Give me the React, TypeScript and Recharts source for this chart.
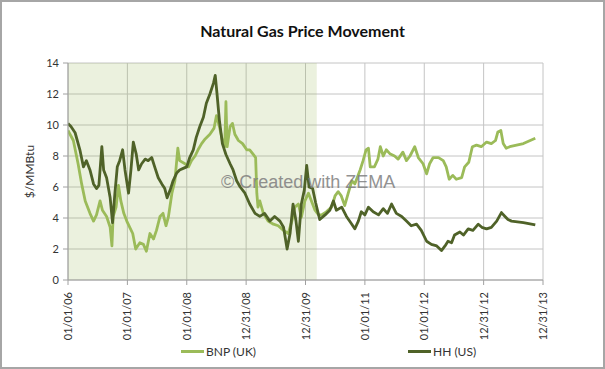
import { LineChart, Line, XAxis, YAxis, CartesianGrid, ReferenceArea, Legend } from 'recharts'

const FONT = 'Lato, "Open Sans", sans-serif'
const BNP_COLOR = '#9bbb59'
const HH_COLOR = '#4f6228'

// decimal years on the x axis, one tick per year
const xTicks = [2006, 2007, 2008, 2009, 2010, 2011, 2012, 2013, 2014]
const xTickLabels = ['01/01/06', '01/01/07', '01/01/08', '12/31/08', '12/31/09', '01/01/11', '01/01/12', '12/31/12', '12/31/13']
const yTicks = [0, 2, 4, 6, 8, 10, 12, 14]
const shadedRange = [2006, 2010.19]

const hhYears = [
  2006.0, 2006.05, 2006.12, 2006.2, 2006.26, 2006.31, 2006.37, 2006.43, 2006.48, 2006.52,
  2006.57, 2006.6, 2006.65, 2006.71, 2006.75, 2006.79, 2006.83, 2006.87, 2006.92, 2006.96,
  2007.02, 2007.06, 2007.1, 2007.15, 2007.19, 2007.24, 2007.3, 2007.35, 2007.41, 2007.46,
  2007.52, 2007.58, 2007.63, 2007.67, 2007.72, 2007.77, 2007.83, 2007.88, 2007.94, 2008.0,
  2008.05, 2008.11, 2008.16, 2008.22, 2008.28, 2008.33, 2008.39, 2008.45, 2008.48, 2008.51,
  2008.55, 2008.6, 2008.66, 2008.73, 2008.78, 2008.84, 2008.9, 2008.98, 2009.06, 2009.15,
  2009.23, 2009.31, 2009.4, 2009.48, 2009.57, 2009.63, 2009.69, 2009.74, 2009.79, 2009.84,
  2009.88, 2009.93, 2009.98, 2010.02, 2010.06, 2010.12, 2010.17, 2010.24, 2010.33, 2010.41,
  2010.47, 2010.52, 2010.61, 2010.69, 2010.78, 2010.83, 2010.89, 2010.94, 2011.0, 2011.06,
  2011.14, 2011.23, 2011.31, 2011.38, 2011.45, 2011.53, 2011.62, 2011.7, 2011.78, 2011.87,
  2011.95, 2012.04, 2012.12, 2012.21, 2012.29, 2012.35, 2012.4, 2012.46, 2012.51, 2012.6,
  2012.66, 2012.74, 2012.82, 2012.91, 2012.97, 2013.05, 2013.13, 2013.22, 2013.3, 2013.36,
  2013.41, 2013.47, 2013.67, 2013.87,
]
const hhValues = [
  10.1, 9.9, 9.5, 8.4, 7.3, 7.7, 7.1, 6.2, 5.9, 6.1,
  8.6, 7.1, 6.6, 5.3, 3.7, 5.6, 7.3, 7.7, 8.4, 7.1,
  5.6, 7.1, 8.9, 8.1, 7.1, 7.5, 7.8, 7.7, 7.9, 7.3,
  6.6, 6.2, 5.9, 5.3, 5.8, 6.4, 6.9, 7.1, 7.2, 7.3,
  7.9, 8.4, 9.2, 9.9, 10.5, 11.4, 12.0, 12.7, 13.2, 12.0,
  10.3, 8.8, 8.1, 7.5, 7.1, 6.4, 6.0, 5.6, 4.9, 4.3,
  4.1, 4.3, 3.8, 4.1, 3.8, 3.4, 2.0, 3.0, 4.9, 3.8,
  2.5, 4.9, 5.8, 7.4, 6.0, 5.9, 5.0, 3.9, 4.2, 4.5,
  5.1, 4.5, 4.7, 4.1, 3.6, 3.3, 3.8, 4.4, 4.2, 4.7,
  4.4, 4.2, 4.6, 4.3, 4.9, 4.3, 4.1, 3.8, 3.5, 3.6,
  3.2, 2.5, 2.3, 2.2, 1.9, 2.2, 2.5, 2.4, 2.9, 3.1,
  2.9, 3.3, 3.2, 3.6, 3.4, 3.3, 3.4, 3.8, 4.35, 4.1,
  3.9, 3.8, 3.7, 3.55,
]

const bnpYears = [
  2006.0, 2006.09, 2006.17, 2006.23, 2006.29, 2006.37, 2006.43, 2006.48, 2006.54, 2006.58,
  2006.65, 2006.71, 2006.74, 2006.76, 2006.81, 2006.85, 2006.89, 2006.94, 2006.99, 2007.04,
  2007.09, 2007.14, 2007.21, 2007.27, 2007.32, 2007.38, 2007.44, 2007.49, 2007.55, 2007.6,
  2007.65, 2007.69, 2007.75, 2007.8, 2007.85, 2007.88, 2007.97, 2008.03, 2008.08, 2008.14,
  2008.19, 2008.25, 2008.31, 2008.39, 2008.46, 2008.5, 2008.55, 2008.6, 2008.64, 2008.66,
  2008.68, 2008.73, 2008.77, 2008.81, 2008.87, 2008.94, 2009.01, 2009.06, 2009.12, 2009.16,
  2009.18, 2009.2, 2009.23, 2009.29, 2009.37, 2009.46, 2009.54, 2009.63, 2009.71, 2009.77,
  2009.82, 2009.88, 2009.93, 2009.99, 2010.05, 2010.1, 2010.16, 2010.22, 2010.27, 2010.35,
  2010.44, 2010.5, 2010.55, 2010.6, 2010.66, 2010.72, 2010.78, 2010.83, 2010.92, 2010.97,
  2011.02, 2011.06, 2011.09, 2011.16, 2011.22, 2011.26, 2011.31, 2011.36, 2011.42, 2011.5,
  2011.56, 2011.64, 2011.7, 2011.76, 2011.84, 2011.9, 2011.98, 2012.04, 2012.09, 2012.15,
  2012.24, 2012.32, 2012.37, 2012.42, 2012.48, 2012.54, 2012.63, 2012.68, 2012.75, 2012.81,
  2012.88, 2012.96, 2013.05, 2013.13, 2013.2, 2013.24, 2013.29, 2013.33, 2013.38, 2013.44,
  2013.67, 2013.87,
]
const bnpValues = [
  9.65, 9.0, 7.5, 6.2, 5.1, 4.3, 3.8, 4.2, 5.1, 4.5,
  4.1, 3.4, 2.2, 4.1, 4.7, 6.1, 5.1, 4.3, 3.8, 3.4,
  3.0, 2.0, 2.4, 2.3, 1.85, 3.0, 2.65, 3.2, 4.1, 4.3,
  3.5, 4.05, 5.6, 6.4, 8.5, 7.7, 7.5, 7.3, 7.7, 8.0,
  8.4, 8.8, 9.1, 9.4, 9.8, 10.6, 9.9, 9.0, 8.6, 11.5,
  8.6, 9.9, 10.1, 9.4, 9.0, 8.8, 8.4, 8.4, 8.1, 7.9,
  5.6, 4.7, 5.1, 4.3, 3.8, 3.6, 3.5, 3.2, 3.0, 3.8,
  4.7, 4.9, 4.05, 5.1, 5.6, 5.1, 4.5, 4.2, 4.2, 4.4,
  4.7, 5.45, 5.7, 5.45, 4.8, 5.6, 6.4, 6.2, 7.1, 7.7,
  8.4, 8.5, 7.3, 7.3, 7.8, 8.6, 8.0, 8.4, 8.15, 8.0,
  7.8, 8.25, 7.7, 8.0, 8.6, 7.9, 7.5, 6.85, 7.5, 7.9,
  7.9, 7.7, 7.3, 6.5, 6.75, 6.5, 6.6, 7.3, 7.6, 8.6,
  8.7, 8.6, 8.9, 8.8, 9.0, 9.55, 9.65, 8.8, 8.5, 8.6,
  8.8, 9.15,
]

const hhData = hhYears.map((t, i) => ({ t, v: hhValues[i] }))
const bnpData = bnpYears.map((t, i) => ({ t, v: bnpValues[i] }))

const legendItems = [
  { name: 'BNP (UK)', color: BNP_COLOR, left: 161 },
  { name: 'HH (US)', color: HH_COLOR, left: 388 },
]

function XTick(props: any) {
  const { x, y, payload } = props
  const idx = xTicks.indexOf(payload.value)
  return (
    <text
      x={0}
      y={0}
      transform={`translate(${x + 4},${y + 5}) rotate(-90)`}
      textAnchor="end"
      fontSize={11}
      fontFamily={FONT}
      fill="#333"
    >
      {xTickLabels[idx] ?? ''}
    </text>
  )
}

function ChartLegend() {
  return (
    <div style={{ position: 'relative', width: 605, height: 24, fontFamily: FONT, fontSize: 12, color: '#333' }}>
      {legendItems.map((it) => (
        <div key={it.name} style={{ position: 'absolute', left: it.left, top: 4, display: 'flex', alignItems: 'center' }}>
          <span style={{ display: 'inline-block', width: 23, height: 3, background: it.color, marginRight: 2 }} />
          <span>{it.name}</span>
        </div>
      ))}
    </div>
  )
}

export default function App() {
  return (
    <div style={{ position: 'relative', width: 605, height: 369, background: '#fff', overflow: 'hidden' }}>
      <style>{`body{margin:0}`}</style>
      <div
        style={{
          position: 'absolute',
          top: 21,
          left: 0,
          width: 605,
          textAlign: 'center',
          fontFamily: FONT,
          fontWeight: 700,
          fontSize: 16,
          color: '#111',
        }}
      >
        Natural Gas Price Movement
      </div>
      <LineChart width={605} height={369} margin={{ top: 63, right: 62, bottom: 5, left: 20 }}>
        <ReferenceArea x1={shadedRange[0]} x2={shadedRange[1]} y1={0} y2={14} fill={BNP_COLOR} fillOpacity={0.2} stroke="none" />
        <CartesianGrid stroke="#c4c4c4" strokeWidth={1} />
        <XAxis
          type="number"
          dataKey="t"
          domain={[2006, 2014]}
          ticks={xTicks}
          interval={0}
          height={60}
          tick={<XTick />}
          tickSize={5}
          stroke="#a0a0a0"
          allowDataOverflow
        />
        <YAxis
          type="number"
          domain={[0, 14]}
          ticks={yTicks}
          width={48}
          tickSize={5}
          tickMargin={4}
          stroke="#a0a0a0"
          tick={{ fontSize: 11, fontFamily: FONT, fill: '#333' }}
          label={{
            value: '$/MMBtu',
            angle: -90,
            position: 'insideLeft',
            offset: 10,
            style: { textAnchor: 'middle', fontSize: 12, fontFamily: FONT, fill: '#333' },
          }}
        />
        <Legend verticalAlign="bottom" height={24} content={() => <ChartLegend />} />
        <Line
          data={bnpData}
          dataKey="v"
          name="BNP (UK)"
          stroke={BNP_COLOR}
          strokeWidth={2.8}
          dot={false}
          isAnimationActive={false}
          strokeLinejoin="round"
        />
        <Line
          data={hhData}
          dataKey="v"
          name="HH (US)"
          stroke={HH_COLOR}
          strokeWidth={2.8}
          dot={false}
          isAnimationActive={false}
          strokeLinejoin="round"
        />
      </LineChart>
      <div
        style={{
          position: 'absolute',
          left: 221,
          top: 172,
          fontFamily: '"Liberation Sans", Arial, sans-serif',
          fontSize: 18,
          color: '#7f7f7f',
          opacity: 0.85,
          whiteSpace: 'nowrap',
          pointerEvents: 'none',
        }}
      >
        © Created with ZEMA
      </div>
      <div style={{ position: 'absolute', inset: 0, border: '2px solid #a6a6a6', pointerEvents: 'none' }} />
    </div>
  )
}
